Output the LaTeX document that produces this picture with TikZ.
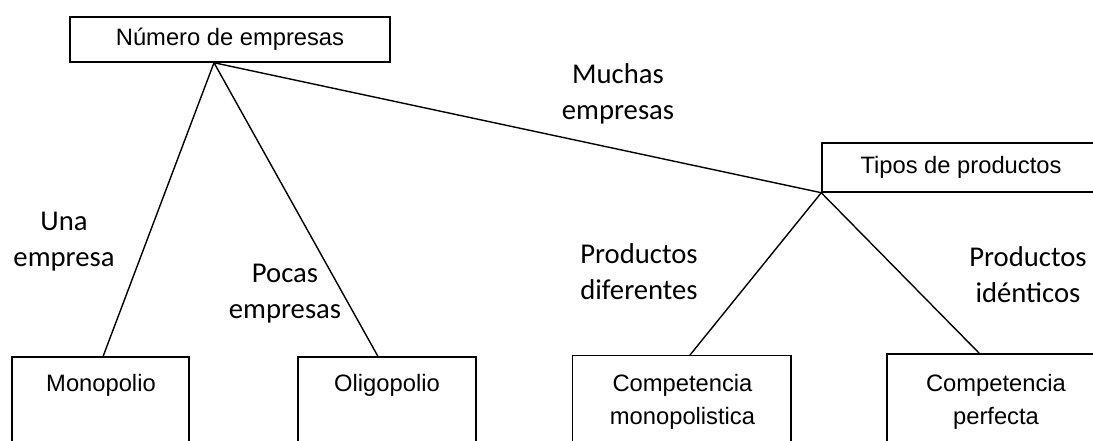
\documentclass[tikz,border=0pt]{standalone}
\usepackage{fontspec}
\setmainfont{Liberation Sans}
\newfontfamily\branchfont{Carlito}
\begin{document}
\begin{tikzpicture}[x=0.75pt,y=0.75pt,yscale=-1,xscale=1,
    boxnode/.style={draw, line width=1.1pt, inner sep=0pt, font=\fontsize{17.8}{25}\selectfont},
    opendown/.style={boxnode, anchor=north, minimum height=90pt},
    boxtext/.style={inner sep=0pt, align=center, font=\fontsize{17.8}{25}\selectfont},
    branchlabel/.style={inner sep=0pt, align=center, font=\branchfont\fontsize{21.5}{27}\selectfont},
    branch/.style={line width=1.05pt}]
        \useasboundingbox (0,0) rectangle (1093,441);
        \clip (0,0) rectangle (1093,441);

        %Shape: Rectangle [id:numero] 
        \node (numero) [boxnode, minimum width=240pt, minimum height=33.75pt] at (230,39.5) {Número de empresas};
        %Shape: Rectangle [id:tipos] 
        \node (tipos) [boxnode, minimum width=208.5pt, minimum height=36.75pt] at (961,167.5) {Tipos de productos};
        %Shape: Rectangle [id:mono] 
        \node (mono) [opendown, minimum width=132.75pt] at (100.5,356.5) {};
        %Shape: Rectangle [id:oligo] 
        \node (oligo) [opendown, minimum width=133.5pt] at (387,356.5) {};
        %Shape: Rectangle [id:compmono] 
        \node (compmono) [opendown, minimum width=163.9pt] at (681.75,355) {};
        %Shape: Rectangle [id:compperf] 
        \node (compperf) [opendown, minimum width=163.5pt] at (996,353.5) {};

        %Straight Lines [id:apex] 
        \coordinate (numapex) at ([xshift=-12pt]numero.south);
        \coordinate (tipapex) at (tipos.south west);
        \draw [branch] (numapex) -- ([xshift=1.9pt]mono.north) ;
        \draw [branch] (numapex) -- ([xshift=-6.75pt]oligo.north) ;
        \draw [branch] (numapex) -- (tipapex) ;
        \draw [branch] (tipapex) -- ([xshift=6.2pt]compmono.north) ;
        \draw [branch] (tipapex) -- ([xshift=-12.4pt]compperf.north) ;

        % Text Node
        \node (monotxt) [boxtext] at (101,385) {Monopolio};
        % Text Node
        \node (oligotxt) [boxtext] at (387,385) {Oligopolio};
        % Text Node
        \node (compmonotxt) [boxtext] at (682.5,402) {Competencia\\monopolistica};
        % Text Node
        \node (compperftxt) [boxtext] at (996,402) {Competencia\\perfecta};

        % Text Node
        \node (muchas) [branchlabel] at (618,94) {Muchas\\empresas};
        % Text Node
        \node (una) [branchlabel] at (64,242) {Una\\empresa};
        % Text Node
        \node (pocas) [branchlabel] at (285,293.5) {Pocas\\empresas};
        % Text Node
        \node (diferentes) [branchlabel] at (639,272) {Productos\\diferentes};
        % Text Node
        \node (identicos) [branchlabel] at (1028,275) {Productos\\idénticos};
\end{tikzpicture}
\end{document}
